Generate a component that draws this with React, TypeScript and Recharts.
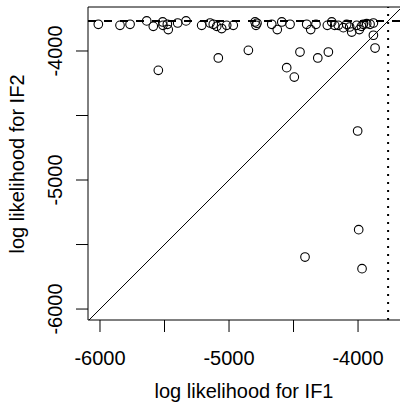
import {
  ScatterChart,
  Scatter,
  XAxis,
  YAxis,
  ReferenceLine,
  ReferenceArea,
} from "recharts";

// log likelihoods, one pair per run
const if1 = [
  -6013, -5845, -5767, -5638, -5587, -5514, -5512, -5478, -5471, -5398,
  -5333, -5212, -5147, -5122, -5095, -5057, -5018, -4967, -4798, -4791,
  -4783, -4669, -4626, -4591, -4527, -4398, -4367, -4326, -4238, -4204,
  -4181, -4153, -4114, -4088, -4065, -4049, -4010, -3990, -3974, -3959,
  -3933, -3907, -3881,
  -5548, -5083, -4850, -4553, -4494, -4450, -4312, -4230, -4003, -3995,
  -3969, -4411, -3881, -3868,
];
const if2 = [
  -3793, -3801, -3793, -3767, -3809, -3775, -3801, -3793, -3834, -3783,
  -3767, -3801, -3783, -3793, -3809, -3826, -3801, -3801, -3775, -3801,
  -3785, -3793, -3834, -3775, -3793, -3793, -3834, -3793, -3801, -3775,
  -3801, -3801, -3819, -3793, -3814, -3853, -3801, -3834, -3809, -3793,
  -3788, -3793, -3783,
  -4150, -4054, -3995, -4129, -4202, -4008, -4054, -4008, -4620, -5385,
  -5687, -5597, -3878, -3977,
];

const tickValues = [-6000, -5500, -5000, -4500, -4000];
const maxLik = -3767;

const xDomain = [-6093, -3667];
const yDomain = [-6085, -3659];

const data = if1.map((v, i) => ({ if1: v, if2: if2[i] }));

const font = "'Liberation Sans', Arial, sans-serif";

function XTick({ x, payload }: any) {
  if (payload.value % 1000 !== 0) return null;
  return (
    <text x={x} y={365} textAnchor="middle" fontSize={20} fontFamily={font} fill="#000">
      {String(payload.value)}
    </text>
  );
}

function YTick({ y, payload }: any) {
  if (payload.value % 1000 !== 0) return null;
  return (
    <text
      x={62}
      y={y}
      transform={`rotate(-90, 62, ${y})`}
      textAnchor="middle"
      fontSize={20}
      fontFamily={font}
      fill="#000"
    >
      {String(payload.value)}
    </text>
  );
}

const Ring = (p: any) => <circle cx={p.cx} cy={p.cy} r={4.3} fill="none" stroke="#000" strokeWidth={1.1} />;

export default function App() {
  return (
    <div style={{ position: "absolute", left: 0, top: 0, width: 400, height: 404, overflow: "hidden", background: "#fff" }}>
      <ScatterChart width={402} height={404} margin={{ top: 7, right: 1, bottom: 0, left: 0 }}>
        <XAxis
          type="number"
          dataKey="if1"
          domain={xDomain}
          allowDataOverflow
          ticks={tickValues}
          interval={0}
          height={84}
          tickSize={12}
          axisLine={false}
          tickLine={{ stroke: "#000" }}
          tick={XTick}
          label={() => (
            <text x={244} y={398} textAnchor="middle" fontSize={20} fontFamily={font} fill="#000">
              log likelihood for IF1
            </text>
          )}
        />
        <YAxis
          type="number"
          dataKey="if2"
          domain={yDomain}
          allowDataOverflow
          ticks={tickValues}
          interval={0}
          width={88}
          tickSize={12}
          axisLine={false}
          tickLine={{ stroke: "#000" }}
          tick={YTick}
          label={() => (
            <text
              x={24}
              y={164}
              transform="rotate(-90, 24, 164)"
              textAnchor="middle"
              fontSize={20}
              fontFamily={font}
              fill="#000"
            >
              log likelihood for IF2
            </text>
          )}
        />
        <ReferenceArea
          x1={xDomain[0]}
          x2={xDomain[1]}
          y1={yDomain[0]}
          y2={yDomain[1]}
          fill="none"
          stroke="#000"
          strokeWidth={1}
          fillOpacity={0}
          ifOverflow="visible"
        />
        <ReferenceLine
          segment={[
            { x: -6085, y: -6085 },
            { x: -3667, y: -3667 },
          ]}
          stroke="#000"
          strokeWidth={1}
          ifOverflow="visible"
        />
        <ReferenceLine y={maxLik} stroke="#000" strokeWidth={2} strokeDasharray="8 8" />
        <ReferenceLine x={maxLik} stroke="#000" strokeWidth={2} strokeDasharray="2 6" />
        <Scatter data={data} shape={Ring} isAnimationActive={false} />
      </ScatterChart>
    </div>
  );
}
